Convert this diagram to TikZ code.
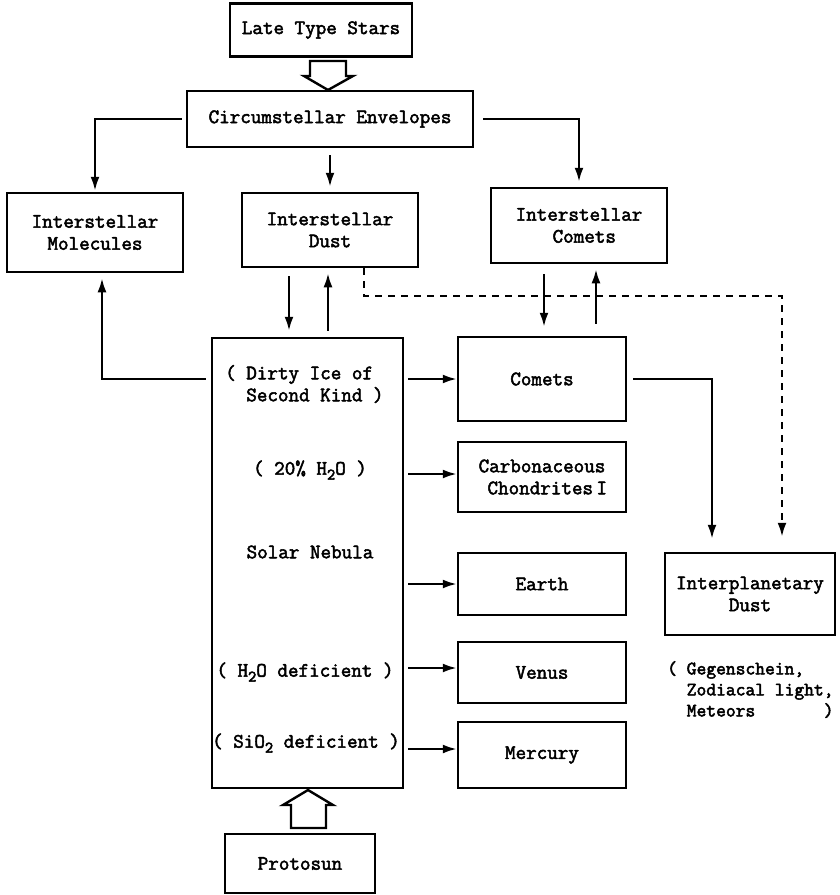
\documentclass[tikz,border=0pt]{standalone}
\usetikzlibrary{arrows.meta,calc}
\newcommand{\heavytext}{\special{pdf:literal direct 2 Tr 0.5 w}}
\newcommand{\diagfont}{\ttfamily\fontsize{20.5}{22}\selectfont\heavytext}
\newcommand{\notefont}{\ttfamily\fontsize{19}{21}\selectfont\heavytext}
\newcommand{\sbs}[1]{\raisebox{-0.55ex}{\fontsize{16}{16}\selectfont #1}}
\begin{document}
\begin{tikzpicture}[x=1pt,y=-1pt,
  box/.style={draw, line width=2.5pt, inner sep=0pt, align=center, font=\diagfont},
  txt/.style={inner sep=0pt, align=center, font=\diagfont},
  conn/.style={line width=2.3pt, -{Latex[length=14pt,width=9pt]}},
  dashline/.style={line width=2.3pt, dash pattern=on 7pt off 6pt, -{Latex[length=14pt,width=9pt]}},
  hollow/.style={draw, line width=2.4pt, line join=miter, fill=white}]
\useasboundingbox (0,0) rectangle (839,895);

% boxes
\node[box, minimum width=182pt, minimum height=53pt] (lts) at (321,30) {Late Type Stars};
\node[box, minimum width=286pt, minimum height=56pt] (cse) at (330,119) {Circumstellar Envelopes};
\node[box, minimum width=176pt, minimum height=79pt] (ism) at (95,232.5) {Interstellar\\Molecules};
\node[box, minimum width=176pt, minimum height=74pt] (isd) at (330,230) {Interstellar\\Dust};
\node[box, minimum width=176pt, minimum height=75pt] (isc) at (579,225.5) {Interstellar\\\ Comets};
\node[box, minimum width=191pt, minimum height=450pt] (neb) at (307.5,563) {};
\node[box, minimum width=168pt, minimum height=84pt] (com) at (542,379) {Comets};
\node[box, minimum width=168pt, minimum height=70pt] (cc) at (542,477) {Carbonaceous\\\ Chondrites\,I};
\node[box, minimum width=168pt, minimum height=62pt] (earth) at (542,584) {Earth};
\node[box, minimum width=168pt, minimum height=61pt] (venus) at (542,672.5) {Venus};
\node[box, minimum width=168pt, minimum height=66pt] (merc) at (542,755) {Mercury};
\node[box, minimum width=170pt, minimum height=82pt] (ipd) at (750,594) {Interplanetary\\Dust};
\node[box, minimum width=150pt, minimum height=59pt] (proto) at (300,863.5) {Protosun};

% texts inside the solar nebula
\node[txt, align=left, anchor=west] (t1) at (225,384) {( Dirty Ice of\\\hphantom{( }Second Kind )};
\node[txt] (t2) at (310,470) {( 20\% H\sbs{2}O )};
\node[txt] (t3) at (310,552) {Solar Nebula};
\node[txt] (t4) at (305,672) {( H\sbs{2}O deficient )};
\node[txt] (t5) at (306,743) {( SiO\sbs{2} deficient )};
\node[txt, font=\notefont, align=left, anchor=north west] (t6) at (667,661)
  {( Gegenschein,\\\hphantom{( }Zodiacal light,\\\hphantom{( }Meteors\hphantom{xxxxxxx})};

% hollow arrows
\draw[hollow] (310,61) -- (346,61) -- (346,76) -- (353,76) -- (328,90) -- (304,76) -- (310,76) -- cycle;
\draw[hollow] (291,828) -- (326,828) -- (326,805) -- (333,805) -- (308,790) -- (283,805) -- (291,805) -- cycle;

% connectors from circumstellar envelopes
\draw[conn, shorten <=4pt, shorten >=1pt] (cse.west) -| (ism.north);
\draw[conn, shorten <=7pt, shorten >=5pt] (cse.south) -- (isd.north);
\draw[conn, shorten <=9pt, shorten >=5pt] (cse.east) -| (isc.north);

% dust <-> nebula
\draw[conn, shorten <=8pt, shorten >=6pt] ([xshift=-41pt]isd.south) -- ([xshift=-41pt]isd.south |- neb.north);
\draw[conn, shorten <=6pt, shorten >=5pt] ([xshift=-2pt]isd.south |- neb.north) -- ([xshift=-2pt]isd.south);

% nebula -> molecules
\coordinate (nm) at ($(neb.north west)+(0,42)$);
\draw[conn, shorten <=5pt, shorten >=5pt] (nm) -| ([xshift=7pt]ism.south);

% interstellar comets <-> comets
\draw[conn, shorten <=10pt, shorten >=9pt] ([xshift=-35pt]isc.south) -- ([xshift=-35pt]isc.south |- com.north);
\draw[conn, shorten <=12pt, shorten >=5pt] ([xshift=17pt]isc.south |- com.north) -- ([xshift=17pt]isc.south);

% nebula -> planets
\coordinate (ccin) at ([yshift=3pt]cc.west);
\coordinate (vein) at ([yshift=4.5pt]venus.west);
\coordinate (mein) at ([yshift=6pt]merc.west);
\draw[conn, shorten <=4pt] (neb.east |- com.west) -- (com.west);
\draw[conn, shorten <=4pt] (neb.east |- ccin) -- (ccin);
\draw[conn, shorten <=4pt] (neb.east |- earth.west) -- (earth.west);
\draw[conn, shorten <=4pt] (neb.east |- vein) -- (vein);
\draw[conn, shorten <=4pt] (neb.east |- mein) -- (mein);

% comets -> interplanetary dust
\draw[conn, shorten <=6pt, shorten >=13pt] (com.east) -| ([xshift=-38pt]ipd.north);

% dashed: interstellar dust -> interplanetary dust
\coordinate (dj) at (782,296);
\draw[dashline, shorten >=15pt] ([xshift=34pt]isd.south) |- (dj) -- ([xshift=32pt]ipd.north);
\end{tikzpicture}
\end{document}
